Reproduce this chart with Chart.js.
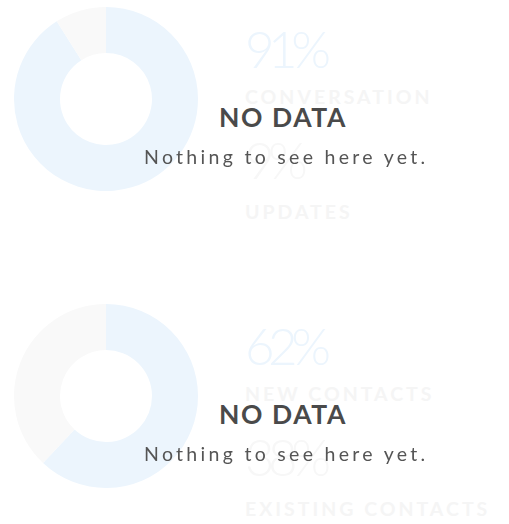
<!DOCTYPE html>
<html>
<head>
<meta charset="utf-8">
<script src="https://cdn.jsdelivr.net/npm/chart.js@4.4.1/dist/chart.umd.min.js"></script>
<style>
  html, body { margin: 0; padding: 0; background: #fff; }
  body { width: 509px; height: 524px; position: relative; overflow: hidden; font-family: Lato, "Open Sans", sans-serif; }
  .card { position: absolute; left: 0; width: 509px; height: 297px; }
  .donut { position: absolute; left: 14px; top: 6.5px; width: 184px; height: 184px; }
  .txt { position: absolute; left: 245px; line-height: 1; white-space: nowrap; }
  .pct { font-size: 51px; font-weight: 300; letter-spacing: -6.5px; }
  .lbl { font-size: 19.5px; font-weight: 700; letter-spacing: 3px; color: #f5f5f5; }
  .nd-title { position: absolute; left: 219px; top: 103.5px; font-size: 26.5px; font-weight: 700; color: #4a4a4a; line-height: 1; white-space: nowrap; letter-spacing: 1.6px; }
  .nd-sub { position: absolute; left: 144px; top: 147.2px; font-size: 19.5px; color: #555; line-height: 1; white-space: nowrap; letter-spacing: 3.3px; }
</style>
</head>
<body>
<script>
// chart data
const conversationLabels = ['CONVERSATION', 'UPDATES'];
const conversationValues = [91, 9];
const contactLabels = ['NEW CONTACTS', 'EXISTING CONTACTS'];
const contactValues = [62, 38];

const sliceColors = ['#ecf5fd', '#f9f9f9'];
const pctColors = ['#ecf5fd', '#f7f7f7'];
// box tops for percent / label rows inside a card
const pctTops = [23.3, 134.3];
const lblTops = [86.7, 201.7];

function makeCard(top, labels, values) {
    var card = document.createElement('div');
    card.className = 'card';
    card.style.top = top + 'px';

    var canvas = document.createElement('canvas');
    canvas.className = 'donut';
    canvas.width = 184;
    canvas.height = 184;
    card.appendChild(canvas);

    labels.forEach(function(label, i) {
        var pct = document.createElement('div');
        pct.className = 'txt pct';
        pct.style.top = pctTops[i] + 'px';
        pct.style.color = pctColors[i];
        pct.textContent = values[i] + '%';
        card.appendChild(pct);

        var lbl = document.createElement('div');
        lbl.className = 'txt lbl';
        lbl.style.top = lblTops[i] + 'px';
        lbl.textContent = label;
        card.appendChild(lbl);
    });

    var title = document.createElement('div');
    title.className = 'nd-title';
    title.textContent = 'NO DATA';
    card.appendChild(title);

    var sub = document.createElement('div');
    sub.className = 'nd-sub';
    sub.textContent = 'Nothing to see here yet.';
    card.appendChild(sub);

    document.body.appendChild(card);

    new Chart(canvas, {
        type: 'doughnut',
        data: {
            labels: labels,
            datasets: [{
                data: values,
                backgroundColor: sliceColors,
                borderWidth: 0
            }]
        },
        options: {
            responsive: false,
            animation: false,
            cutout: '50%',
            layout: { padding: 0 },
            plugins: {
                legend: { display: false },
                tooltip: { enabled: false }
            }
        }
    });
}

makeCard(0, conversationLabels, conversationValues);
makeCard(297, contactLabels, contactValues);
</script>
</body>
</html>
